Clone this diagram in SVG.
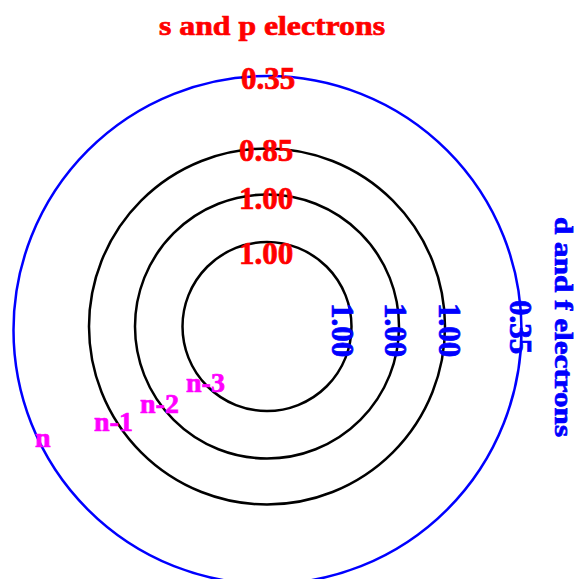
<svg xmlns="http://www.w3.org/2000/svg" width="577" height="579" viewBox="0 0 577 579">
<style>
.ring{fill:none;stroke:#000;stroke-width:2.5}
.outer{fill:none;stroke:#0000ff;stroke-width:2.5}
text{font-family:"Liberation Serif","Times New Roman",serif;font-weight:bold;stroke-width:0.7}
.red{fill:#ff0000;stroke:#ff0000;font-size:31px;text-anchor:middle}
.blue{fill:#0000ff;stroke:#0000ff;font-size:31px;text-anchor:middle}
.mag{fill:#ff00ff;stroke:#ff00ff;font-size:28px}
</style>
<rect width="577" height="579" fill="#fff"/>
<g id="shells">
<circle id="shell-n" class="outer" cx="267.5" cy="330" r="254"/>
<circle id="shell-n-1" class="ring" cx="267" cy="326.5" r="178"/>
<circle id="shell-n-2" class="ring" cx="267" cy="326.5" r="132"/>
<circle id="shell-n-3" class="ring" cx="267" cy="326.5" r="84.5"/>
</g>
<g id="title-sp">
<text x="159" y="35" font-size="27" fill="#ff0000" stroke="#ff0000" textLength="226" lengthAdjust="spacingAndGlyphs">s and p electrons</text>
</g>
<g id="title-df">
<text transform="translate(555,327) rotate(90)" font-size="25" fill="#0000ff" stroke="#0000ff" text-anchor="middle" textLength="220" lengthAdjust="spacingAndGlyphs">d and f electrons</text>
</g>
<g id="sp-values">
<text class="red" x="268" y="89">0.35</text>
<text class="red" x="266" y="160.5">0.85</text>
<text class="red" x="266" y="209">1.00</text>
<text class="red" x="266" y="263.5">1.00</text>
</g>
<g id="df-values">
<text class="blue" transform="translate(332,330) rotate(90)">1.00</text>
<text class="blue" transform="translate(385,330) rotate(90)">1.00</text>
<text class="blue" transform="translate(438.5,330) rotate(90)">1.00</text>
<text class="blue" transform="translate(510,327) rotate(90)">0.35</text>
</g>
<g id="shell-labels">
<text class="mag" x="35" y="446.5">n</text>
<text class="mag" x="94" y="431">n-1</text>
<text class="mag" x="140" y="413">n-2</text>
<text class="mag" x="186" y="391.5">n-3</text>
</g>
</svg>
